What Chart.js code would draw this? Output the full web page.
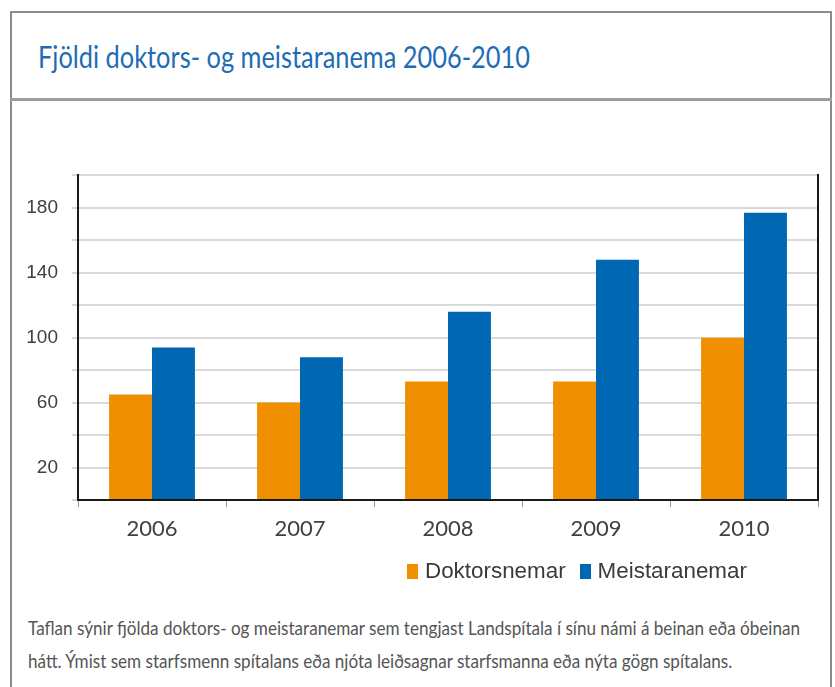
<!DOCTYPE html>
<html lang="is">
<head>
<meta charset="utf-8">
<title>Fjöldi doktors- og meistaranema 2006-2010</title>
<script src="https://cdn.jsdelivr.net/npm/chart.js@4.4.0/dist/chart.umd.min.js"></script>
<style>
  html, body { margin: 0; padding: 0; background: #fff; }
  body { width: 835px; height: 687px; position: relative; overflow: hidden; }
  .frame {
    position: absolute; left: 10px; top: 11px; width: 822px; height: 700px;
    border: 2px solid #8c8c8c; box-sizing: border-box;
  }
  .title-rule {
    position: absolute; left: 10px; top: 98px; width: 822px; height: 3px; background: #9d9d9d;
  }
  .title {
    position: absolute; left: 38px; top: 36px; transform-origin: 0 50%;
    font-family: Lato, "Open Sans", sans-serif;
    font-size: 31px; line-height: 40px; color: #1f6cb5; white-space: nowrap;
  }
  .chart-box { position: absolute; left: 0; top: 150px; width: 835px; height: 410px; }
  .legend {
    position: absolute; left: 407px; top: 558px; display: flex; align-items: center;
    font-family: "Liberation Sans", Arial, sans-serif; font-size: 22.4px; color: #3a3a3a;
    white-space: nowrap;
  }
  .legend .item { display: flex; align-items: center; margin-right: 14px; }
  .legend .swatch { width: 11px; height: 15px; margin-right: 7px; }
  .caption {
    position: absolute; left: 28px; top: 611px;
    font-family: Lato, "Open Sans", sans-serif;
    font-size: 19px; line-height: 33px; color: #555; white-space: nowrap;
  }
  .caption span { display: inline-block; transform-origin: 0 50%; }
</style>
</head>
<body>
<div class="frame"></div>
<div class="title-rule"></div>
<div class="title" id="title">Fjöldi doktors- og meistaranema 2006-2010</div>
<div class="chart-box"><canvas id="barChart"></canvas></div>
<div class="legend" id="legend"></div>
<div class="caption">
  <span id="cap1">Taflan sýnir fjölda doktors- og meistaranemar sem tengjast Landspítala í sínu námi á beinan eða óbeinan</span><br>
  <span id="cap2">hátt. Ýmist sem starfsmenn spítalans eða njóta leiðsagnar starfsmanna eða nýta gögn spítalans.</span>
</div>
<script>
const years = ['2006', '2007', '2008', '2009', '2010'];
const doktorsnemar = [65, 60, 73, 73, 100];
const meistaranemar = [94, 88, 116, 148, 177];
const yLabelValues = [20, 60, 100, 140, 180];

const orange = '#f09000';
const blue = '#0067b2';

Chart.defaults.font.family = '"Liberation Sans", Arial, sans-serif';
Chart.defaults.animation = false;

const ctx = document.getElementById('barChart').getContext('2d');

const barChart = new Chart(ctx, {
  type: 'bar',
  data: {
    labels: years,
    datasets: [
      { label: 'Doktorsnemar', data: doktorsnemar, backgroundColor: orange },
      { label: 'Meistaranemar', data: meistaranemar, backgroundColor: blue }
    ]
  },
  options: {
    responsive: true,
    maintainAspectRatio: false,
    layout: { padding: { top: 25, right: 0, left: 0, bottom: 0 } },
    datasets: { bar: { barPercentage: 1, categoryPercentage: 0.58 } },
    plugins: {
      legend: { display: false },
      tooltip: { enabled: false }
    },
    scales: {
      x: {
        grid: { offset: true, drawOnChartArea: false, tickLength: 7, color: '#999', lineWidth: 1 },
        border: { color: '#1a1a1a', width: 2 },
        ticks: {
          color: '#404040', padding: 9,
          font: { family: 'Lato, "Open Sans", sans-serif', size: 22 }
        },
        afterFit(scale) { scale.height = 60; }
      },
      y: {
        min: 0,
        max: 200,
        grid: { color: '#d9d9d9', lineWidth: 2, tickLength: 6 },
        border: { color: '#1a1a1a', width: 2 },
        ticks: {
          stepSize: 20, color: '#404040', padding: 14,
          font: { size: 19 },
          callback: value => yLabelValues.includes(value) ? value : ''
        },
        afterFit(scale) { scale.width = 78; }
      },
      y2: {
        position: 'right',
        grid: { drawOnChartArea: false, drawTicks: false },
        border: { color: '#1a1a1a', width: 2 },
        ticks: { display: false },
        afterFit(scale) { scale.width = 17; }
      }
    }
  }
});

// legend built from the chart's own datasets
const legend = document.getElementById('legend');
barChart.data.datasets.forEach(ds => {
  const item = document.createElement('div');
  item.className = 'item';
  item.innerHTML = `<span class="swatch" style="background:${ds.backgroundColor}"></span><span>${ds.label}</span>`;
  legend.appendChild(item);
});

// squeeze the condensed-looking texts to the widths they take in the original
function fitWidth(el, target) {
  const w = el.getBoundingClientRect().width;
  const s = target / w;
  el.style.transform = `scaleX(${s})`;
  return s;
}
const title = document.getElementById('title');
title.style.display = 'inline-block';
fitWidth(title, 492);
const capScale = fitWidth(document.getElementById('cap1'), 772);
document.getElementById('cap2').style.transform = `scaleX(${capScale})`;
</script>
</body>
</html>
